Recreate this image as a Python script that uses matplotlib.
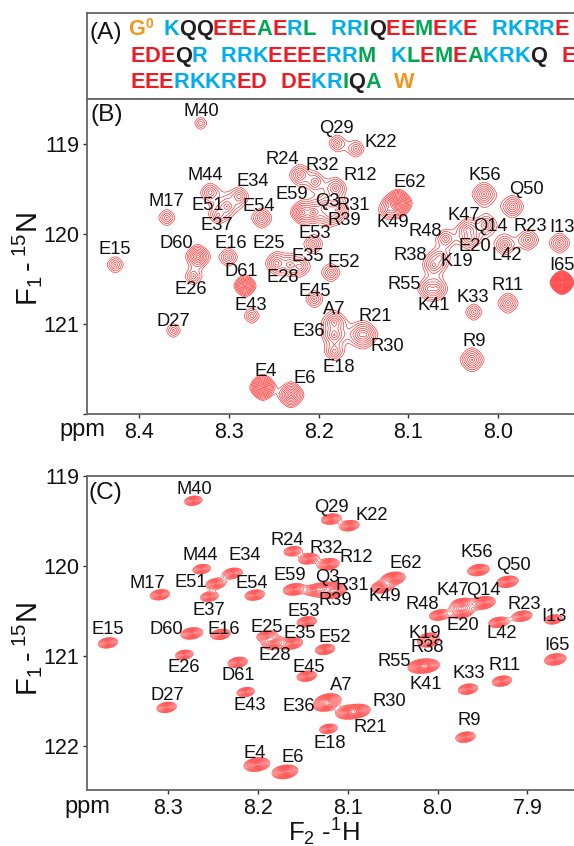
import numpy as np
import matplotlib
matplotlib.use('Agg')
import matplotlib.pyplot as plt

W, H = 574, 846
plt.rcParams['font.family'] = ['Liberation Sans', 'DejaVu Sans']
plt.rcParams['mathtext.default'] = 'regular'

# panel A sequence, (start pixel, residues) per row
seq_rows = [
    (35, [(128.3, 'G'), (163.3, 'KQQEEEAERL'), (331, 'RRIQEEMEKE'), (491.7, 'RKRRE')]),
    (61.7, [(130, 'EDEQR'), (220.7, 'RRKEEEERRM'), (390.7, 'KLEMEAKRKQ'), (561.7, 'E')]),
    (88.3, [(130, 'EEERKKRED'), (280.7, 'DEKRIQA'), (394, 'W')]),
]
residue_colors = {'E': '#ed1c24', 'D': '#ed1c24', 'K': '#00aeef', 'R': '#00aeef',
                  'Q': '#231f20', 'A': '#00a651', 'L': '#00a651', 'M': '#00a651',
                  'I': '#00a651', 'G': '#f7941d', 'W': '#f7941d'}

# panel B peaks: 1H ppm, 15N ppm, intensity above the lowest contour
names_b = ['M40', 'M17', 'E15', 'M44', 'E34', 'E51', 'E37', 'E54', 'D60', 'E16', 'E25', 'E28', 'E35',
           'R24', 'R32', 'E59', 'E59b', 'Q3', 'R31', 'R39', 'E53', 'E26', 'D61', 'E43', 'D27', 'E4',
           'E6', 'E45', 'E52', 'A7', 'E36', 'E18', 'R21', 'R30', 'R38', 'K19', 'R55', 'K41', 'K33',
           'R11', 'R9', 'I65', 'Q29', 'K22', 'R12', 'E62', 'K49', 'R48', 'K47', 'E20', 'Q14', 'K56',
           'Q50', 'L42', 'R23', 'I13']
x_b = [8.3316, 8.3695, 8.4271, 8.3212, 8.2889, 8.3026, 8.3123, 8.2635, 8.3349, 8.3008, 8.2468, 8.232, 8.2208,
       8.2208, 8.2041, 8.2189, 8.2064, 8.193, 8.18, 8.1874, 8.206, 8.3398, 8.2822, 8.2747, 8.3621, 8.2624,
       8.2309, 8.2049, 8.1863, 8.1826, 8.1826, 8.1826, 8.1532, 8.148, 8.0715, 8.0648, 8.077, 8.0685, 8.0269,
       7.9886, 8.0288, 7.9284, 8.1793, 8.1584, 8.181, 8.1113, 8.1224, 8.0584, 8.0332, 8.0313, 8.0127, 8.0154,
       7.9837, 7.9923, 7.9663, 7.931]
y_b = [118.767, 119.816, 120.341, 119.538, 119.582, 119.693, 119.786, 119.822, 120.249, 120.256, 120.322, 120.341, 120.363,
       119.341, 119.416, 119.76, 119.76, 119.708, 119.73, 119.786, 120.108, 120.471, 120.574, 120.908, 121.071, 121.704,
       121.786, 120.722, 120.427, 120.982, 121.119, 121.304, 121.119, 121.119, 120.341, 120.263, 120.608, 120.608, 120.867,
       120.767, 121.397, 120.538, 118.989, 119.052, 119.489, 119.656, 119.73, 120.052, 119.952, 120.04, 119.897, 119.556,
       119.693, 120.119, 120.063, 120.1]
amp_b = [3.3, 5, 5, 6.5, 6.5, 6.5, 5.5, 7.4, 20, 6, 9, 6, 6,
         8, 5.5, 16, 14, 9, 9, 7, 6, 5, 39, 4.4, 3.9, 76,
         26, 5.2, 6, 10, 10, 6, 9, 9, 8, 5.5, 7.5, 7.5, 5,
         7.4, 11, 950, 5, 5, 8, 106, 6.5, 6, 8, 8, 7, 11,
         9, 7.5, 7.5, 7.4]
width_b = {'I65': 0.35, 'E62': 0.6, 'E4': 0.6, 'D61': 0.6, 'E6': 0.8, 'D60': 0.8, 'E59': 0.8, 'E59b': 0.8}

# panel C peaks
names_c = ['M40', 'M44', 'E34', 'E51', 'E37', 'M17', 'E54', 'E59', 'E59b', 'R24', 'R32', 'E53', 'E15', 'D60',
           'E16', 'E25', 'E28', 'E35', 'E26', 'D61', 'E43', 'D27', 'E4', 'E6', 'E45', 'E52', 'A7', 'E36',
           'E18', 'R30', 'R21', 'R55', 'K41', 'K33', 'R11', 'R9', 'I65', 'Q29', 'K22', 'R12', 'Q3', 'R31',
           'R39', 'E62', 'K49', 'K56', 'Q50', 'K47', 'E20', 'Q14', 'R48', 'L42', 'R23', 'I13', 'K19', 'R38']
x_c = [8.2721, 8.2628, 8.2282, 8.2472, 8.2543, 8.3093, 8.2037, 8.1599, 8.1365, 8.1613, 8.1439, 8.1457, 8.3672, 8.2739,
       8.2416, 8.1903, 8.1829, 8.1624, 8.2822, 8.2226, 8.2137, 8.3018, 8.2014, 8.1699, 8.1457, 8.1253, 8.1216, 8.1253,
       8.1216, 8.0885, 8.0997, 8.0194, 8.0105, 7.9662, 7.9283, 7.9689, 7.8689, 8.1186, 8.0982, 8.1216, 8.1253, 8.1142,
       8.1197, 8.0492, 8.0621, 7.9544, 7.9221, 7.9729, 7.9729, 7.9488, 7.9982, 7.9321, 7.9057, 7.8708, 8.0101, 8.0101]
y_c = [119.278, 120.037, 120.084, 120.2, 120.344, 120.322, 120.326, 120.262, 120.27, 119.837, 119.922, 120.622, 120.856, 120.751,
       120.762, 120.778, 120.862, 120.862, 120.989, 121.073, 121.403, 121.573, 122.207, 122.289, 121.226, 120.929, 121.492, 121.548,
       121.811, 121.614, 121.626, 121.114, 121.114, 121.37, 121.281, 121.903, 121.04, 119.481, 119.556, 119.984, 120.251, 120.27,
       120.292, 120.14, 120.24, 120.048, 120.178, 120.426, 120.518, 120.411, 120.548, 120.629, 120.559, 120.596, 120.803, 120.848]
amp_c = [9.5, 9.5, 12, 12, 9.5, 12, 12, 15.6, 12, 9.5, 12, 12, 12, 15.6,
         12, 12, 15.6, 15.6, 9.5, 12, 9.5, 12, 26, 26, 12, 12, 20, 15.6,
         9.5, 20, 20, 20, 15.6, 12, 12, 12, 15.6, 12, 12, 15.6, 12, 15.6,
         15.6, 20, 15.6, 15.6, 15.6, 15.6, 15.6, 20, 12, 12, 12, 9.5, 9.5, 9.5]

# label centres in figure pixels
labels_b = {'M40': (201.7, 111.7), 'R24': (282.7, 159.3), 'R32': (322, 165), 'M44': (205, 176), 'E34': (252.7, 181),
            'M17': (166.7, 201.7), 'E51': (207.7, 205), 'E59': (291.7, 194.3), 'E54': (259, 206.7), 'E37': (216.7, 225.7),
            'Q3': (327.3, 201.7), 'E53': (315, 233.3), 'E15': (115, 249.3), 'D60': (176, 243.3), 'E16': (231, 244),
            'E25': (268.3, 244), 'E35': (307.3, 256.7), 'D61': (241.7, 271), 'E28': (282.3, 277.7), 'E26': (190.7, 290),
            'E45': (315, 291), 'E43': (251, 305.7), 'D27': (173.3, 321.7), 'E36': (308.3, 331), 'E4': (265.7, 371),
            'E6': (304.3, 378.3), 'E18': (338.3, 367.7), 'E52': (343.3, 262.7), 'R55': (404.3, 284.3), 'K41': (433.3, 305.7),
            'A7': (334.3, 310), 'R21': (375.7, 316.7), 'R30': (387.7, 346), 'K33': (472.7, 297.7), 'R11': (507.7, 286),
            'R9': (474.3, 341), 'I65': (562.3, 265), 'R38': (410, 256), 'K19': (456.7, 261.7), 'Q29': (336, 128.3),
            'K22': (381, 142.3), 'R12': (360.7, 175), 'R31': (353.3, 206), 'R39': (344, 220.7), 'E62': (409.3, 182.3),
            'K49': (392.7, 222.7), 'R48': (425, 231), 'K47': (464.3, 215), 'Q14': (490.7, 226.7), 'E20': (475, 246.7),
            'L42': (506.7, 255.7), 'R23': (530.7, 226), 'I13': (561.7, 227.7), 'K56': (485, 175), 'Q50': (526.7, 189)}
labels_c = {'M40': (194, 489.3), 'M44': (200.7, 555), 'E34': (244.3, 555.7), 'E51': (190.7, 582.7), 'M17': (147.3, 584),
            'E54': (251.7, 584), 'E59': (290, 575), 'R24': (287.3, 540.7), 'R32': (326, 548), 'Q3': (327, 578),
            'E37': (209.3, 610), 'E53': (303.3, 611.7), 'E15': (107.7, 630), 'D60': (166.7, 629), 'E16': (224, 629),
            'E25': (266.7, 627.3), 'E35': (300, 634), 'E28': (275, 655), 'E26': (183.3, 667.3), 'D61': (238.3, 675),
            'E45': (308.3, 667.3), 'E43': (249.3, 705), 'D27': (167.3, 696), 'E36': (299, 706), 'E4': (255, 753.3),
            'E6': (292.3, 757.7), 'E18': (330, 743.3), 'R55': (394, 661), 'K41': (426, 684.3), 'A7': (341.7, 685),
            'R30': (389, 701.7), 'R21': (370, 727.7), 'K33': (468.3, 673.3), 'R11': (505, 665), 'R9': (469, 720.7),
            'Q29': (331.7, 507.3), 'K22': (371.7, 515), 'R12': (356.7, 557.7), 'R31': (352.7, 586), 'R39': (335, 600.7),
            'E62': (406, 564), 'K49': (385, 596.7), 'K56': (476.7, 552.7), 'Q50': (513.3, 565.7), 'K47': (453.3, 590.7),
            'Q14': (483.3, 590), 'R48': (422.3, 604), 'R23': (524, 604), 'I13': (554.3, 616.7), 'E20': (463.3, 625.7),
            'L42': (501.7, 633.3), 'K19': (425, 633.3), 'R38': (427.3, 647.3), 'I65': (556.7, 645), 'E52': (335, 637.3)}

xticks_b = [8.4, 8.3, 8.2, 8.1, 8.0]
xticks_c = [8.3, 8.2, 8.1, 8.0, 7.9]
yticks_b = [119, 120, 121, 122]
yticks_c = [119, 120, 121, 122]

SPINE = '#666666'
PX_PER_PPM_X = 897.0
PX_PER_PPM_Y = 90.0


def px_axes(fig, left, top, right, bottom):
    return fig.add_axes([left / W, 1 - bottom / H, (right - left) / W, (bottom - top) / H])


def style_axes(ax, xticks, yticks, ylabels):
    ax.spines['right'].set_visible(False)
    for s in ['left', 'top', 'bottom']:
        ax.spines[s].set_color(SPINE)
        ax.spines[s].set_linewidth(1.3)
    ax.set_xticks(xticks)
    ax.set_xticklabels(['%.1f' % v for v in xticks])
    ax.set_yticks(yticks)
    ax.set_yticklabels(ylabels)
    ax.tick_params(length=3, width=1, color='#333333', labelsize=15.5, pad=2.5, labelcolor='#111111')


def peak_surface(xx, yy, xs, ys, amps, sig_a, sig_b, tilt, power, names, widths):
    zz = np.zeros_like(xx)
    ct, st = np.cos(tilt), np.sin(tilt)
    for n, x0, y0, a0 in zip(names, xs, ys, amps):
        f = widths.get(n, 1.0)
        du = (x0 - xx) * PX_PER_PPM_X
        dv = (y0 - yy) * PX_PER_PPM_Y
        a = (du * ct + dv * st) / (sig_a * f)
        b = (-du * st + dv * ct) / (sig_b * f)
        rho = (np.abs(a) ** power + np.abs(b) ** power + 0.01) ** (1.0 / power)
        zz += a0 * np.exp(-rho)
    return zz


def draw_peaks(fig, ax, names, xs, ys, amps, labels, sig_a, sig_b, tilt, power, ratio, lw, widths={}):
    x0, x1 = ax.get_xlim()
    y0, y1 = ax.get_ylim()
    xx, yy = np.meshgrid(np.linspace(x1, x0, 1000), np.linspace(y1, y0, 700))
    zz = peak_surface(xx, yy, xs, ys, amps, sig_a, sig_b, tilt, power, names, widths)
    n_lev = int(np.log(zz.max()) / np.log(ratio)) + 1
    levels = ratio ** np.arange(n_lev)
    ax.contour(xx, yy, zz, levels=levels, colors='#ff2424', linewidths=lw)
    for n, x, y in zip(names, xs, ys):
        if n in labels:
            px, py = labels[n]
            ax.annotate(n, xy=(x, y), xycoords='data', xytext=(px / W, 1 - py / H),
                        textcoords='figure fraction', ha='center', va='center',
                        fontsize=13.2, color='#111111', annotation_clip=False, zorder=5)


def text_width(fig, renderer, s, **kw):
    t = fig.text(0, 0, s, **kw)
    w = t.get_window_extent(renderer).width
    t.remove()
    return w


def draw_sequence(fig):
    renderer = fig.canvas.get_renderer()
    kw = dict(fontsize=15.7, fontweight='bold')
    w_ref = text_width(fig, renderer, 'H', **kw)
    for base, segments in seq_rows:
        for start, seq in segments:
            for i, res in enumerate(seq):
                off = text_width(fig, renderer, seq[:i] + 'H', **kw) - w_ref if i else 0
                fig.text((start + off) / W, 1 - base / H, res, color=residue_colors[res],
                         va='baseline', ha='left', **kw)
    fig.text(145 / W, 1 - 28.5 / H, '0', color=residue_colors['G'], fontsize=10,
             fontweight='bold', va='baseline', ha='left')


def main():
    fig = plt.figure(figsize=(W / 100, H / 100), dpi=100)

    ax_a = px_axes(fig, 87, 13.5, 580, 99)
    ax_a.set_xticks([])
    ax_a.set_yticks([])
    for s in ax_a.spines.values():
        s.set_color(SPINE)
        s.set_linewidth(1.3)
    draw_sequence(fig)

    ax_b = px_axes(fig, 87, 99, 574, 414)
    ax_b.set_xlim(8.4586, 7.915)
    ax_b.set_ylim(121.997, 118.497)
    draw_peaks(fig, ax_b, names_b, x_b, y_b, amp_b, labels_b, 5.0, 5.0, 0.0, 1.6, 1.45, 0.45, width_b)
    style_axes(ax_b, xticks_b, yticks_b, ['119', '120', '121', ''])

    ax_c = px_axes(fig, 87, 475.7, 574, 790)
    ax_c.set_xlim(8.3906, 7.848)
    ax_c.set_ylim(122.49, 119.0)
    draw_peaks(fig, ax_c, names_c, x_c, y_c, amp_c, labels_c, 4.0, 2.1, np.radians(9), 2.0, 1.25, 0.35)
    style_axes(ax_c, xticks_c, yticks_c, ['119', '120', '121', '122'])

    # panel letters and axis titles
    for txt, px, py in [('(A)', 106, 33), ('(B)', 107, 115), ('(C)', 105.5, 493)]:
        fig.text(px / W, 1 - py / H, txt, fontsize=17.6, ha='center', va='center', color='#111111')
    fig.text(82 / W, 1 - 430 / H, 'ppm', fontsize=17, ha='center', va='center', color='#111111')
    fig.text(87 / W, 1 - 807 / H, 'ppm', fontsize=17, ha='center', va='center', color='#111111')
    fig.text(27 / W, 1 - 259 / H, r'F$_1$$\,$-$\,$$^{15}$N', fontsize=21, rotation=90,
             ha='center', va='center', color='#111111')
    fig.text(27 / W, 1 - 649 / H, r'F$_1$$\,$-$\,$$^{15}$N', fontsize=21, rotation=90,
             ha='center', va='center', color='#111111')
    fig.text(324 / W, 1 - 832.5 / H, 'F$_2$ -$^1$H', fontsize=18.5, ha='center', va='center', color='#111111')

    fig.savefig('out.png', dpi=100)
    plt.close(fig)


if __name__ == "__main__":
    main()
